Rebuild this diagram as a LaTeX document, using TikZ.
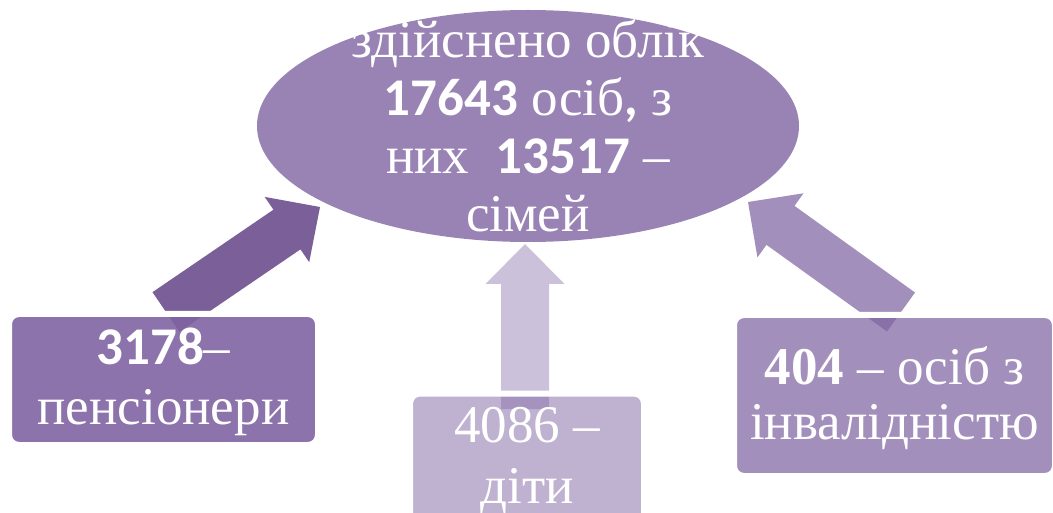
\documentclass[tikz,border=0pt]{standalone}
\usepackage{fontspec}
\setmainfont{Liberation Serif}
\newfontfamily\calibri{Carlito}
\usetikzlibrary{calc, backgrounds, shapes.geometric}
\definecolor{P1}{RGB}{128,100,162}
\definecolor{P2}{RGB}{123,95,153}
\newcommand{\arrowshaft}{24pt}
\newcommand{\arrowhead}{39.5pt}
\newcommand{\arrowheadl}{40pt}
% block arrow: style, tail, tip
\newcommand{\blockarrow}[3]{%
  \coordinate (ba-base) at ($(#3)!\arrowheadl!(#2)$);
  \fill[#1] ($(#2)!\arrowshaft!90:(#3)$)
    -- ($(ba-base)!\arrowshaft!-90:(#2)$)
    -- ($(ba-base)!\arrowhead!-90:(#2)$)
    -- (#3)
    -- ($(ba-base)!\arrowhead!90:(#2)$)
    -- ($(ba-base)!\arrowshaft!90:(#2)$)
    -- ($(#2)!\arrowshaft!-90:(#3)$) -- cycle;}
\tikzset{
  databox/.style={rectangle, rounded corners=10pt, draw=white, line width=6pt,
    text=white, text opacity=1, align=center, inner sep=0pt,
    font=\fontsize{53}{60}\selectfont}
}
\begin{document}
\begin{tikzpicture}[x=1pt, y=-1pt]
\useasboundingbox (0,0) rectangle (1053,513);

\node[databox, fill=P1, fill opacity=0.9, minimum width=309, minimum height=131]
  (pens) at (163.5,379.5) {\rule{0pt}{42pt}{\calibri\bfseries 3178}–\\пенсіонери};
\node[databox, fill=P1, fill opacity=0.5, minimum width=234, minimum height=134.5,
  font=\fontsize{53}{61}\selectfont]
  (kids) at (527,460.75) {4086 –\\діти};
\node[databox, fill=P1, fill opacity=0.72, minimum width=321, minimum height=161,
  font=\fontsize{53}{55}\selectfont]
  (inv) at (894.5,395.5) {\rule{0pt}{43pt}\textbf{404} – осіб з\\інвалідністю};

\node[ellipse, fill=P1, fill opacity=0.8, text=white, text opacity=1,
  inner xsep=0pt, inner ysep=-40pt,
  minimum width=542, minimum height=232, align=center,
  font=\fontsize{53}{58}\selectfont]
  (obl) at (528,126)
  {здійснено облік\\{\calibri\bfseries 17643} осіб{\calibri\bfseries ,} з\\
   них\ \ {\calibri\bfseries 13517} –\\сімей};

\coordinate (penstail) at ($(pens.north)+(2.5,1)$);
\coordinate (kidstail) at ($(kids.north)+(-2,18.5)$);
\coordinate (invtail)  at ($(inv.north)+(6.5,0)$);
\coordinate (penstip) at (320,207);
\coordinate (kidstip) at (525,244);
\coordinate (invtip)  at (748,202);

\begin{scope}[on background layer]
\blockarrow{P2}{penstail}{penstip}
\blockarrow{P1, fill opacity=0.4}{kidstail}{kidstip}
\blockarrow{P1, fill opacity=0.72}{invtail}{invtip}
\end{scope}
\end{tikzpicture}
\end{document}
